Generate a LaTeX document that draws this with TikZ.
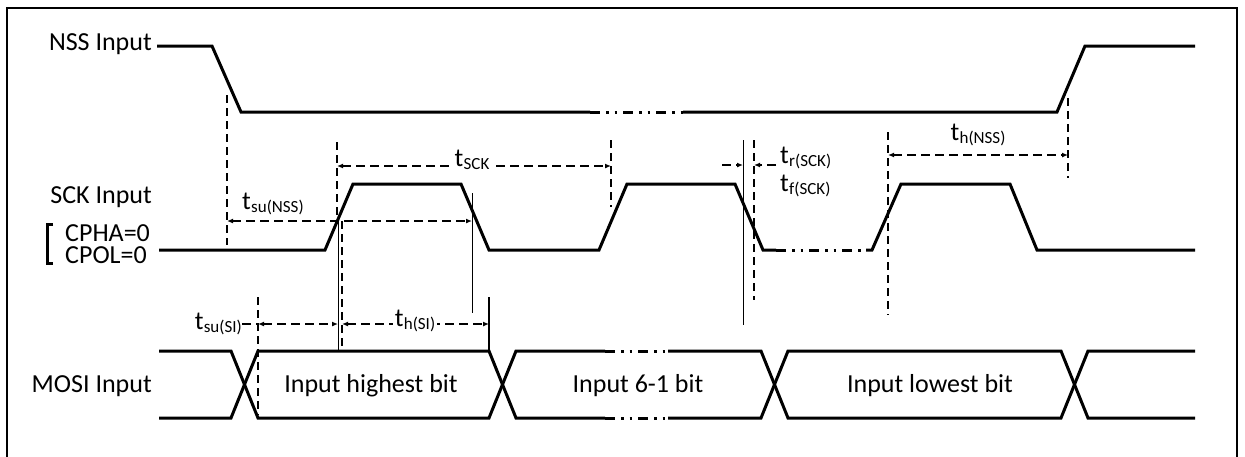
\documentclass[tikz,border=0pt]{standalone}
\usepackage{fontspec}
\setmainfont{Carlito}
\usetikzlibrary{arrows.meta}
\newcommand\tsub[1]{t\kern0.3pt\raisebox{-3.5pt}{\fontsize{17}{20}\selectfont #1}}
\begin{document}
\begin{tikzpicture}[x=1pt,y=-1pt,
  sig/.style={line width=3pt},
  gapsig/.style={line width=3pt, dash pattern=on 10pt off 6pt on 2.5pt off 6pt on 2.5pt off 6pt},
  guide/.style={line width=1.6pt, dash pattern=on 8pt off 5pt},
  fine/.style={line width=1pt},
  dim/.style={line width=1.2pt, dash pattern=on 9pt off 5pt},
  dimtip/.style={-{Latex[length=6pt,width=5pt]}},
  dimboth/.style={{Latex[length=6pt,width=5pt]}-{Latex[length=6pt,width=5pt]}},
  lbl/.style={font=\fontsize{26}{30}\selectfont, inner sep=0pt},
  tl/.style={font=\fontsize{26}{30}\selectfont, inner sep=1.5pt, fill=white}
]
\useasboundingbox (0,0) rectangle (1245,456);
% frame
\draw[line width=2pt] (7,470) -- (7,8) -- (1237,8) -- (1237,470);

% signal labels
\node[lbl, anchor=base east] (nss) at (152,50) {NSS Input};
\node[lbl, anchor=base east] (sck) at (152,203) {SCK Input};
\node[lbl, anchor=base west, align=left, font=\fontsize{26}{22}\selectfont] (cfg) at (65,263) {CPHA=0\\CPOL=0};
\node[lbl, anchor=base east] (mosi) at (152,392) {MOSI Input};
\draw[line width=3pt] (53,224) -- (47,224) -- (47,263) -- (53,263);

% NSS
\draw[sig] (157,46) -- (212,46) -- (241,112) -- (590,112);
\draw[gapsig] (590,112) -- (683,112);
\draw[sig] (683,112) -- (1057,112) -- (1085,46) -- (1195,46);

% SCK
\draw[sig] (159,250) -- (325,250) -- (353,184) -- (461,184) -- (489,250) -- (599,250)
  -- (627,184) -- (735,184) -- (763,250) -- (776,250);
\draw[gapsig] (776,250) -- (866,250);
\draw[sig] (866,250) -- (872,250) -- (901,184) -- (1010,184) -- (1037,250) -- (1195,250);

% MOSI
\draw[sig] (159,351) -- (231,351) -- (258,418) -- (489,418) -- (516,351) -- (605,351);
\draw[sig] (159,418) -- (231,418) -- (258,351) -- (489,351) -- (516,418) -- (605,418);
\draw[gapsig] (605,351) -- (668,351);
\draw[gapsig] (605,418) -- (668,418);
\draw[sig] (668,351) -- (761,351) -- (788,418) -- (1061,418) -- (1088,351) -- (1195,351);
\draw[sig] (668,418) -- (761,418) -- (788,351) -- (1061,351) -- (1088,418) -- (1195,418);

\node[lbl, anchor=base] (d7) at (371,392) {Input highest bit};
\node[lbl, anchor=base] (d61) at (638,392) {Input 6-1 bit};
\node[lbl, anchor=base] (d0) at (930,392) {Input lowest bit};

% guide coordinates
\coordinate (gA1) at (227,95);   \coordinate (gA2) at (227,245);
\coordinate (gB1) at (337,142);  \coordinate (gB2) at (337,221);
\coordinate (gC1) at (338,221);  \coordinate (gC2) at (338,351);
\coordinate (gD1) at (342,221);  \coordinate (gD2) at (342,351);
\coordinate (gE1) at (611,140);  \coordinate (gE2) at (611,207);
\coordinate (gF1) at (743,140);  \coordinate (gF2) at (743,325);
\coordinate (gG1) at (754,140);  \coordinate (gG2) at (754,300);
\coordinate (gH1) at (888,132);  \coordinate (gH2) at (888,315);
\coordinate (gI1) at (1068,98);  \coordinate (gI2) at (1068,178);
\coordinate (gJ1) at (472,193);  \coordinate (gJ2) at (472,313);
\coordinate (gK1) at (489,297);  \coordinate (gK2) at (489,351);
\coordinate (gL1) at (258,297);  \coordinate (gL2) at (258,415);

\draw[guide] (gA1) -- (gA2);
\draw[guide] (gB1) -- (gB2);
\draw[fine]  (gC1) -- (gC2);
\draw[guide] (gD1) -- (gD2);
\draw[guide] (gE1) -- (gE2);
\draw[fine]  (gF1) -- (gF2);
\draw[guide] (gG1) -- (gG2);
\draw[guide] (gH1) -- (gH2);
\draw[guide] (gI1) -- (gI2);
\draw[fine]  (gJ1) -- (gJ2);
\draw[line width=1.5pt] (gK1) -- (gK2);
\draw[guide] (gL1) -- (gL2);

% dimension arrows
\coordinate (suN1) at (227,221); \coordinate (suN2) at (472,221);
\draw[dim, dimboth] (suN1) -- (suN2);
\node[lbl, anchor=base west] (tsuNSS) at (242,209) {\tsub{su(NSS)}};

\coordinate (sck1) at (337,166); \coordinate (sck2) at (611,166);
\draw[dim, dimboth] (sck1) -- (sck2);
\node[tl, anchor=base] (tSCK) at (472,166) {\tsub{SCK}};

\coordinate (suS0) at (242,324); \coordinate (suS1) at (258,324); \coordinate (suS2) at (338,324);
\node[lbl, anchor=base east] (tsuSI) at (242,329) {\tsub{su(SI)}};
\draw[dim] (tsuSI.east |- suS0) -- (suS1);
\draw[dim, dimboth] (suS1) -- (suS2);

\coordinate (hS1) at (342,324); \coordinate (hS2) at (489,324);
\draw[dim, dimboth] (hS1) -- (hS2);
\node[tl, anchor=base] (thSI) at (415,326) {\tsub{h(SI)}};

\coordinate (tr0) at (722,165); \coordinate (tr1) at (743,165);
\coordinate (tf0) at (776,165); \coordinate (tf1) at (754,165);
\draw[dim, dimtip] (tr0) -- (tr1);
\draw[dim, dimtip] (tf0) -- (tf1);
\node[lbl, anchor=base west] (trSCK) at (780,163) {\tsub{r(SCK)}};
\node[lbl, anchor=base west] (tfSCK) at (780,191) {\tsub{f(SCK)}};

\coordinate (hN1) at (888,155); \coordinate (hN2) at (1068,155);
\draw[dim, dimboth] (hN1) -- (hN2);
\node[lbl, anchor=base] (thNSS) at (978,140) {\tsub{h(NSS)}};
\end{tikzpicture}
\end{document}
